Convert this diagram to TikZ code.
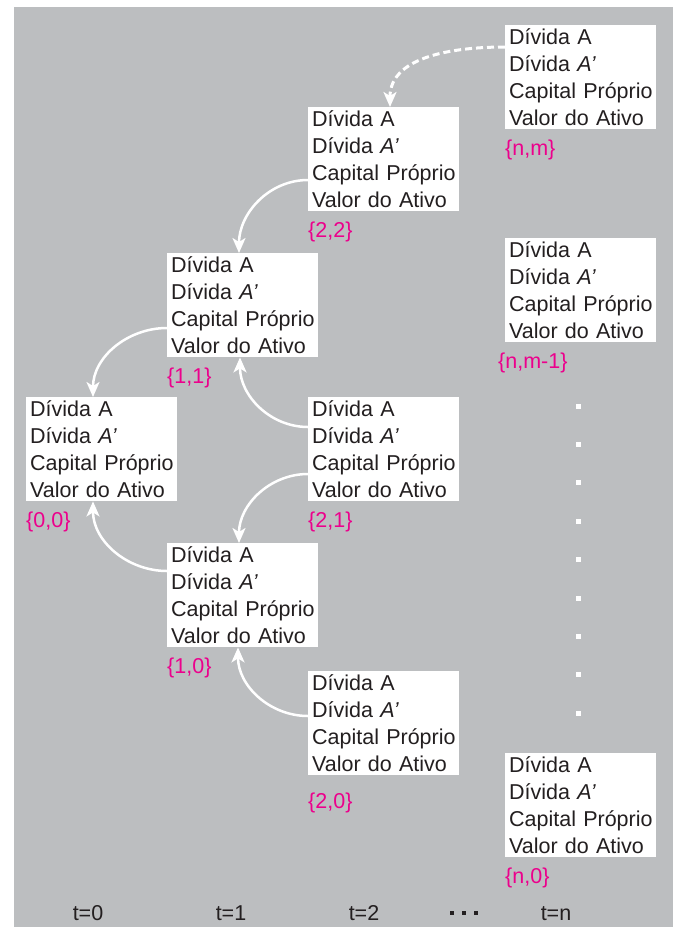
\documentclass[tikz,border=0pt]{standalone}
\usepackage{fontspec}
\setmainfont{Liberation Sans}
\usetikzlibrary{arrows.meta}
\definecolor{fundo}{HTML}{BCBEC0}
\definecolor{rosa}{HTML}{EC008C}
\definecolor{tinta}{HTML}{231F20}
\newcommand{\balanco}{D\'ivida A\\D\'ivida {\itshape A’}\\Capital~Pr\'oprio\\Valor do Ativo}

\begin{document}
\begin{tikzpicture}[x=1pt,y=-1pt,>={Stealth[length=15pt,width=13pt,inset=4pt]},
font=\fontsize{21.5}{27}\selectfont,text=tinta,
estado/.style={fill=white,anchor=north west,align=left,text width=143pt,
inner xsep=4pt,inner ysep=0pt,minimum height=104pt},
rotulo/.style={text=rosa,anchor=base west,inner sep=0pt},
tempo/.style={anchor=base,inner sep=0pt},
seta/.style={->,white,line width=2.5pt}]
\fill[fundo] (14,7) rectangle (673,927);
\useasboundingbox (0,0) rectangle (673,927);
% estados
\node[estado] (s00) at (26,397) {\balanco};
\node[estado] (s11) at (167,253) {\balanco};
\node[estado] (s10) at (167,543) {\balanco};
\node[estado] (s22) at (308,107) {\balanco};
\node[estado] (s21) at (308,397) {\balanco};
\node[estado] (s20) at (308,671) {\balanco};
\node[estado] (snm) at (505,25) {\balanco};
\node[estado] (snm1) at (505,238) {\balanco};
\node[estado] (sn0) at (505,753) {\balanco};
% rotulos
\node[rotulo] (r00) at ([yshift=-26pt]s00.south west) {\{0,0\}};
\node[rotulo] (r11) at ([yshift=-26pt]s11.south west) {\{1,1\}};
\node[rotulo] (r10) at ([yshift=-26pt]s10.south west) {\{1,0\}};
\node[rotulo] (r22) at ([yshift=-26pt]s22.south west) {\{2,2\}};
\node[rotulo] (r21) at ([yshift=-26pt]s21.south west) {\{2,1\}};
\node[rotulo] (r20) at ([yshift=-33pt]s20.south west) {\{2,0\}};
\node[rotulo] (rnm) at ([yshift=-26pt]snm.south west) {\{n,m\}};
\node[rotulo] (rnm1) at ([xshift=-7pt,yshift=-26pt]snm1.south west) {\{n,m-1\}};
\node[rotulo] (rn0) at ([yshift=-26pt]sn0.south west) {\{n,0\}};
% setas
\draw[seta,dash pattern=on 7pt off 4pt,line width=3pt] ([yshift=-22pt]snm.north west) to[out=180,in=90] ([xshift=82pt]s22.north west);
\draw[seta] ([yshift=-73pt]s22.north west) to[out=180,in=90] ([xshift=72pt]s11.north west);
\draw[seta] ([yshift=-75pt]s11.north west) to[out=180,in=90] ([xshift=67pt]s00.north west);
\draw[seta] ([yshift=-30pt]s21.north west) to[out=180,in=-90] ([xshift=73pt]s11.south west);
\draw[seta] ([yshift=-77pt]s21.north west) to[out=180,in=90] ([xshift=72pt]s10.north west);
\draw[seta] ([yshift=-28pt]s10.north west) to[out=180,in=-90] ([xshift=67pt]s00.south west);
\draw[seta] ([yshift=-45pt]s20.north west) to[out=180,in=-90] ([xshift=71pt]s10.south west);
% pontos
\foreach \k in {0,...,8}
  \fill[white] (575.5,{403.5+38.4*\k}) rectangle ++(5,5);
\foreach \x in {452,464,476}
  \fill[tinta] ({\x-2.25},910.5) rectangle ++(4.5,4.5);
% tempos
\node[tempo] (t0) at (88,920) {t=0};
\node[tempo] (t1) at (231,920) {t=1};
\node[tempo] (t2) at (364,920) {t=2};
\node[tempo] (tn) at (556,920) {t=n};
\end{tikzpicture}
\end{document}
